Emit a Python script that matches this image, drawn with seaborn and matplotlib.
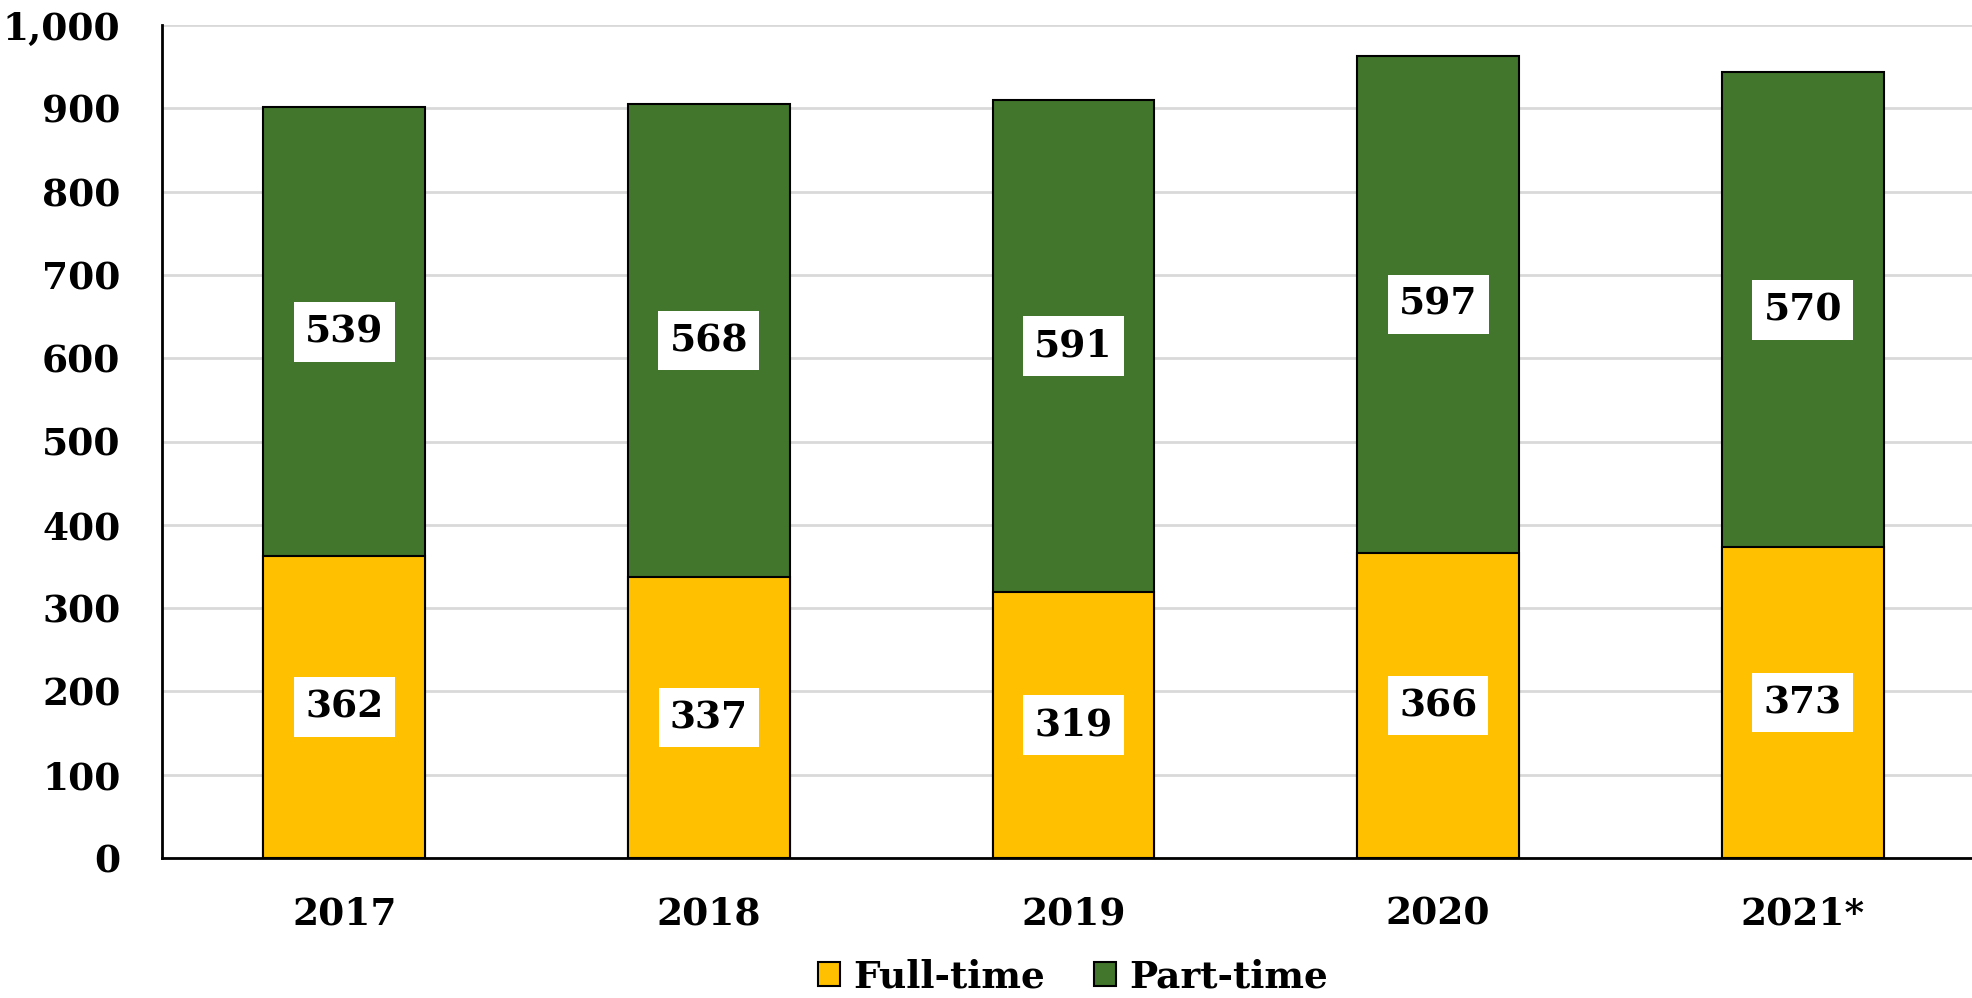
import matplotlib
matplotlib.use("Agg")
import matplotlib.pyplot as plt
import seaborn as sns
import pandas as pd
from matplotlib.patches import Patch
from matplotlib.ticker import FuncFormatter

years = ["2017", "2018", "2019", "2020", "2021*"]
full_time = [362, 337, 319, 366, 373]
part_time = [539, 568, 591, 597, 570]
yticks = [0, 100, 200, 300, 400, 500, 600, 700, 800, 900, 1000]

GREEN = "#41762C"
YELLOW = "#FFC000"

sns.set_theme(style="white")
plt.rcParams["font.family"] = ["DejaVu Serif"]
plt.rcParams["font.weight"] = "bold"
plt.rcParams["text.color"] = "black"
plt.rcParams["xtick.color"] = "black"
plt.rcParams["ytick.color"] = "black"

df = pd.DataFrame({"year": years, "full": full_time, "part": part_time})
df["total"] = df["full"] + df["part"]

fig = plt.figure(figsize=(19.72, 9.98), dpi=100)
ax = fig.add_axes([162 / 1972, 140 / 998, 1823 / 1972, 833 / 998])

sns.barplot(data=df, x="year", y="total", color=GREEN, saturation=1,
            width=0.444, edgecolor="black", linewidth=1.5, ax=ax, zorder=3)
sns.barplot(data=df, x="year", y="full", color=YELLOW, saturation=1,
            width=0.444, edgecolor="black", linewidth=1.5, ax=ax, zorder=3)

fs = 27
bbox = dict(boxstyle="square,pad=0.3", facecolor="white", edgecolor="none")
for i, (f, p) in enumerate(zip(full_time, part_time)):
    ax.text(i, f / 2, f"{f}", ha="center", va="center", fontsize=fs,
            fontweight="bold", color="black", bbox=bbox, zorder=5)
    ax.text(i, f + p / 2, f"{p}", ha="center", va="center", fontsize=fs,
            fontweight="bold", color="black", bbox=bbox, zorder=5)

ax.set_ylim(0, 1000)
ax.set_xlim(-0.5, 4.5)
ax.set_yticks(yticks)
ax.yaxis.set_major_formatter(FuncFormatter(lambda v, _: f"{int(v):,}"))
ax.grid(axis="y", color="#D9D9D9", linewidth=2, zorder=0)
ax.set_axisbelow(True)
ax.set_xlabel("")
ax.set_ylabel("")
ax.tick_params(axis="both", length=0, labelsize=fs, labelcolor="black")
ax.tick_params(axis="y", pad=30)
ax.tick_params(axis="x", pad=27)
for lab in ax.get_xticklabels() + ax.get_yticklabels():
    lab.set_fontweight("bold")

for s in ["top", "right"]:
    ax.spines[s].set_visible(False)
for s in ["left", "bottom"]:
    ax.spines[s].set_color("black")
    ax.spines[s].set_linewidth(2)

handles = [Patch(facecolor=YELLOW, edgecolor="black", linewidth=1.5, label="Full-time"),
           Patch(facecolor=GREEN, edgecolor="black", linewidth=1.5, label="Part-time")]
fig.legend(handles=handles, loc="center", bbox_to_anchor=(1073 / 1972, 21 / 998),
           ncol=2, frameon=False, prop=dict(family="DejaVu Serif", weight="bold", size=fs),
           handlelength=0.6, handleheight=0.6, handletextpad=0.35, columnspacing=1.3)

fig.savefig("out.png", dpi=100)
